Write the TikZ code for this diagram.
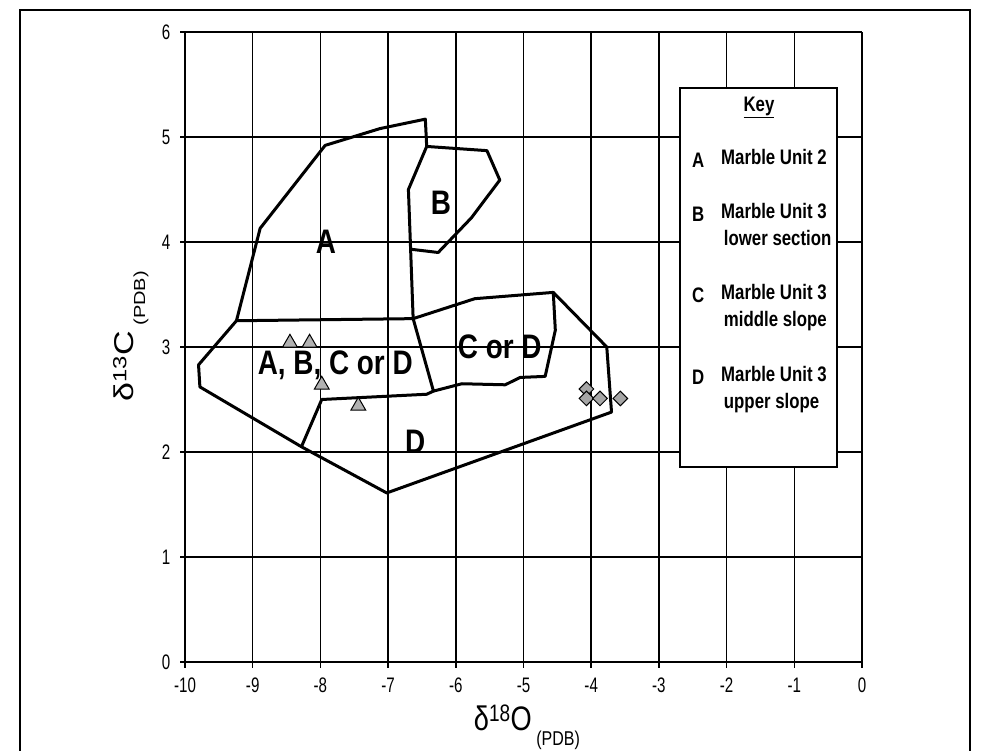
\documentclass[tikz,border=0pt]{standalone}
\usepackage{fontspec}
\setmainfont{Liberation Sans}
\usetikzlibrary{shapes.geometric}
\begin{document}
\begin{tikzpicture}[x=1pt,y=1pt,
  region/.style={line width=3pt,line join=round},
  rlabel/.style={font=\bfseries\fontsize{34}{34}\selectfont,xscale=0.82,inner sep=0},
  ticklab/.style={font=\fontsize{21}{21}\selectfont,xscale=0.72,inner sep=0},
  keytxt/.style={font=\bfseries\fontsize{21}{27}\selectfont,xscale=0.8,inner sep=0,anchor=west,align=left},
  tri/.style={draw=black,fill=gray!60,line width=1pt,regular polygon,regular polygon sides=3,minimum size=17pt,inner sep=0},
  dia/.style={draw=black,fill=gray!70,line width=1pt,diamond,minimum size=15pt,inner sep=0}]
\useasboundingbox (0,0) rectangle (983,750);
\fill[white] (0,0) rectangle (983,750);
\draw[line width=2.5pt] (20,-5) -- (20,740) -- (970,740) -- (970,-5);
\begin{scope}[shift={(862,88)},x=67.7pt,y=105pt]
  \foreach \i in {-10,...,0} \draw[line width=1.5pt] (\i,0) -- (\i,6);
  \foreach \j in {0,...,6} \draw[line width=1.5pt] (-10,\j) -- (0,\j);
  \draw[line width=2.5pt] (-10,0) -- (0,0);
  \foreach \i in {-10,...,0} {
    \draw[line width=1.5pt] (\i,0) -- (\i,-0.06);
    \node[ticklab] (xt\i) at (\i,-0.22) {\i};
  }
  \foreach \j in {0,...,6} {
    \draw[line width=1.5pt] (-10,\j) -- (-10.08,\j);
    \node[ticklab] (yt\j) at (-10.28,\j) {\j};
  }
  \node[font=\fontsize{34}{34}\selectfont,xscale=0.8] (xlab) at (-4.95,-0.62) {δ\textsuperscript{18}O\,\raisebox{-0.8ex}{\fontsize{20}{20}\selectfont(PDB)}};
  \node[font=\fontsize{34}{34}\selectfont,rotate=90,yscale=0.8] (ylab) at (-10.8,3.1) {δ\textsuperscript{13}C\,\raisebox{-0.8ex}{\fontsize{20}{20}\selectfont(PDB)}};
  \draw[region] (-9.24,3.25) -- (-8.89,4.13) -- (-7.93,4.92) -- (-7.12,5.08) -- (-6.45,5.17) -- (-6.43,4.91) -- (-6.70,4.50) -- (-6.63,3.27) -- cycle;
  \draw[region] (-6.43,4.91) -- (-5.54,4.87) -- (-5.35,4.59) -- (-5.77,4.23) -- (-6.26,3.90) -- (-6.65,3.93);
  \draw[region] (-9.24,3.25) -- (-9.80,2.83) -- (-9.78,2.62) -- (-8.28,2.05) -- (-7.02,1.61) -- (-3.70,2.38) -- (-3.77,3.00) -- (-4.56,3.52) -- (-5.72,3.46) -- (-6.63,3.27);
  \draw[region] (-6.63,3.27) -- (-6.33,2.58) -- (-5.91,2.65) -- (-5.27,2.64) -- (-5.05,2.71) -- (-4.68,2.72) -- (-4.53,3.16) -- (-4.56,3.52);
  \draw[region] (-6.33,2.58) -- (-6.43,2.55) -- (-7.98,2.50) -- (-8.28,2.05);
  \node[rlabel] (lA) at (-7.92,4.0) {A};
  \node[rlabel] (lB) at (-6.22,4.37) {B};
  \node[rlabel] (lABCD) at (-7.78,2.83) {A, B, C or D};
  \node[rlabel] (lCD) at (-5.35,3.0) {C or D};
  \node[rlabel] (lD) at (-6.6,2.1) {D};
  \node[tri] (t1) at (-8.45,3.04) {};
  \node[tri] (t2) at (-8.16,3.04) {};
  \node[tri] (t3) at (-7.98,2.64) {};
  \node[tri] (t4) at (-7.44,2.44) {};
  \node[dia] (d1) at (-4.07,2.60) {};
  \node[dia] (d2) at (-4.07,2.51) {};
  \node[dia] (d3) at (-3.87,2.51) {};
  \node[dia] (d4) at (-3.57,2.51) {};
\end{scope}
\draw[line width=1.8pt,fill=white] (680,283) rectangle (837,662);
\node[font=\bfseries\fontsize{21}{21}\selectfont,xscale=0.8] (keyt) at (759,643) {\underline{Key}};
\node[keytxt] (kA) at (692,590) {A};
\node[keytxt] (kB) at (692,536) {B};
\node[keytxt] (kC) at (692,455) {C};
\node[keytxt] (kD) at (692,373) {D};
\node[keytxt,anchor=north west] (kta) at (721,601) {Marble Unit 2};
\node[keytxt,anchor=north west] (ktb) at (721,547) {Marble Unit 3\\\,lower section};
\node[keytxt,anchor=north west] (ktc) at (721,466) {Marble Unit 3\\\,middle slope};
\node[keytxt,anchor=north west] (ktd) at (721,384) {Marble Unit 3\\\,upper slope};
\end{tikzpicture}
\end{document}
